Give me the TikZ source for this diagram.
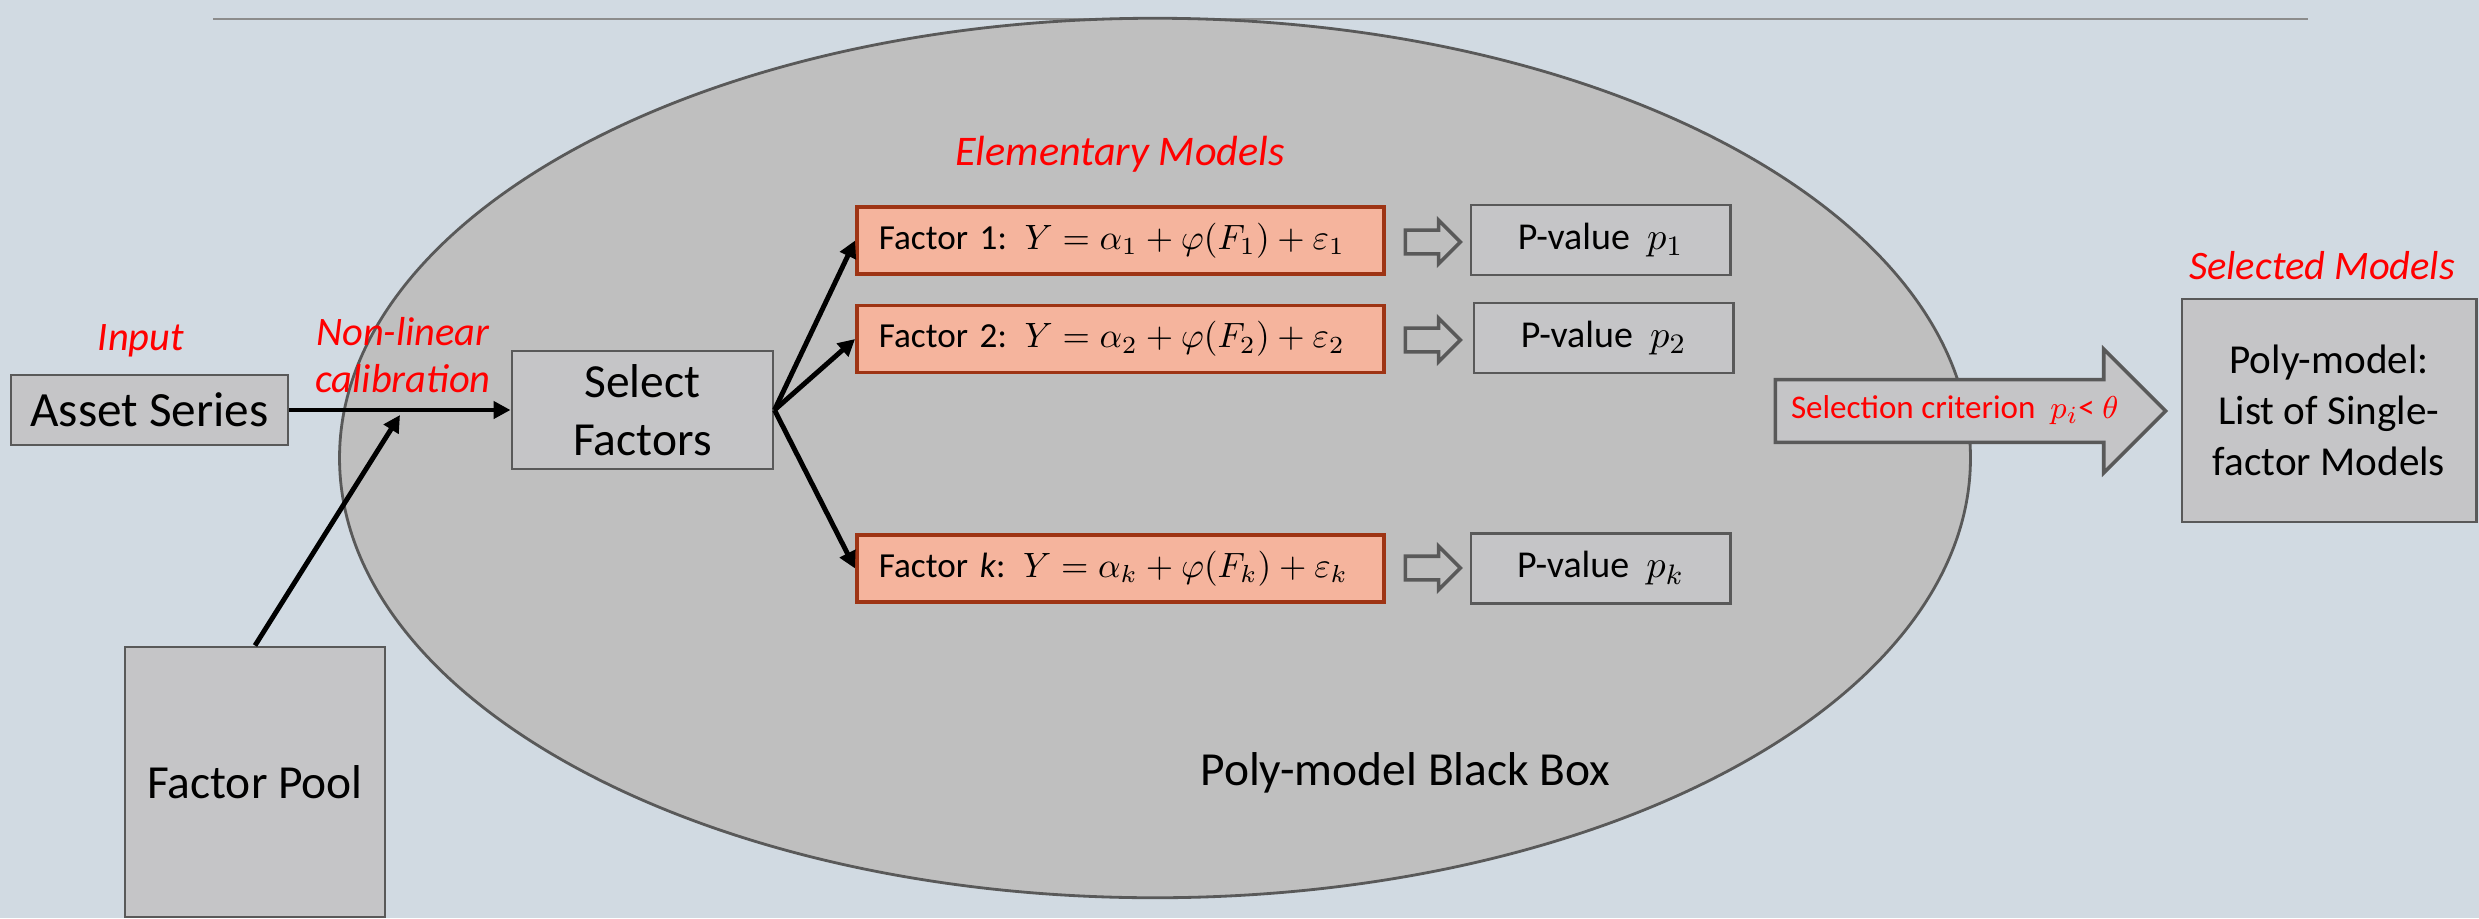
\documentclass[tikz,border=0pt]{standalone}
\usepackage{fontspec}
\setmainfont{Carlito}
\usetikzlibrary{arrows.meta, shapes.geometric, shapes.arrows}

\definecolor{bgblue}{RGB}{209,218,226}
\definecolor{ellgray}{RGB}{191,191,191}
\definecolor{boxgray}{RGB}{197,197,199}
\definecolor{edgegray}{RGB}{89,89,89}
\definecolor{rulegray}{RGB}{140,140,140}
\definecolor{salmon}{RGB}{245,180,157}
\definecolor{rust}{RGB}{158,52,20}

\tikzset{
    grey box/.style={
        draw=edgegray,
        fill=boxgray,
        line width=0.8pt,
        inner sep=0pt,
        align=center
    },
    factor box/.style={
        draw=rust,
        fill=salmon,
        line width=1pt,
        inner xsep=0.22cm,
        inner ysep=0pt,
        minimum height=0.67cm,
        text width=4.83cm,
        align=left,
        font=\fontsize{10}{12}\selectfont
    },
    pvalue box/.style={
        grey box,
        minimum width=2.59cm,
        minimum height=0.70cm,
        font=\fontsize{10.8}{13}\selectfont
    },
    hollow/.style={
        single arrow,
        draw=edgegray,
        line width=1pt,
        minimum height=0.55cm,
        single arrow head extend=0.1cm,
        inner sep=0.1cm
    },
    red label/.style={
        text=red,
        font=\itshape\fontsize{11.5}{13.5}\selectfont,
        align=center
    },
    flow/.style={
        line width=1.4pt,
        -{Triangle[length=4.8pt, width=4.8pt]}
    }
}

\begin{document}
\begin{tikzpicture}[x=0.01cm, y=-0.01cm]
            % Background
            \fill [bgblue] (0,0) rectangle (2479,918);
            \useasboundingbox (0,0) rectangle (2479,918);
            \draw [rulegray, line width=0.6pt] (213,19) -- (2308,19);

            % Black box
            \node (blackbox) [
                ellipse,
                draw=edgegray,
                fill=ellgray,
                line width=0.8pt,
                minimum width=16.3cm,
                minimum height=8.79cm,
                inner sep=0pt
            ] at (1155,458) {};
            \node (bblabel) [
                anchor=base west,
                font=\fontsize{13.5}{16}\selectfont
            ] at (1188,785) {Poly-model Black Box};

            % Inputs
            \node (asset) [
                grey box,
                minimum width=2.77cm,
                minimum height=0.70cm,
                font=\fontsize{14}{16}\selectfont
            ] at (149.5,410) {Asset Series};
            \node (pool) [
                grey box,
                minimum width=2.60cm,
                minimum height=2.70cm,
                font=\fontsize{13.5}{15}\selectfont
            ] at (255,782) {Factor Pool};
            \node (select) [
                grey box,
                minimum width=2.61cm,
                minimum height=1.18cm,
                font=\fontsize{13.5}{16.5}\selectfont
            ] at (642.5,410) {Select\\Factors};
            \coordinate (join) at (400,415);

            % Elementary models
            \node (f1) [factor box] at (1120.5,240.5)
                {Factor 1: $Y = \alpha_1 + \varphi(F_1) + \varepsilon_1$};
            \node (f2) [factor box] at (1120.5,339)
                {Factor 2: $Y = \alpha_2 + \varphi(F_2) + \varepsilon_2$};
            \node (fk) [factor box] at (1120.5,568.5)
                {Factor \textit{k}: $Y = \alpha_k + \varphi(F_k) + \varepsilon_k$};

            \node (h1) [hollow] at (1427,242) {};
            \node (h2) [hollow] at (1427,340) {};
            \node (hk) [hollow] at (1427,568) {};

            \node (p1) [pvalue box] at (1600.5,240) {P-value\ \ $p_1$};
            \node (p2) [pvalue box] at (1603.5,338) {P-value\ \ $p_2$};
            \node (pk) [pvalue box] at (1600.5,568.5) {P-value\ \ $p_k$};

            % Selection
            \node (criterion) [
                single arrow,
                draw=edgegray,
                fill=boxgray,
                line width=1pt,
                minimum height=3.9cm,
                single arrow head extend=0.305cm,
                text height=0.22cm,
                text depth=0.08cm,
                inner ysep=0.145cm,
                inner xsep=0pt,
                text=red,
                font=\fontsize{9.4}{11}\selectfont,
                anchor=tip
            ] at (2168,411) {Selection criterion\ \ $p_i$< $\theta$};
            \node (poly) [
                grey box,
                minimum width=2.94cm,
                minimum height=2.23cm,
                font=\fontsize{11.7}{14.5}\selectfont
            ] at (2329,410.5) {Poly-model:\\List of Single-\\factor Models};

            % Labels
            \node (inlabel) [red label, anchor=base] at (141,350) {Input};
            \node (calib) [red label] at (403,355) {Non-linear\\calibration};
            \node (elemlabel) [red label, font=\itshape\fontsize{12}{14}\selectfont, anchor=base] at (1120,165) {Elementary Models};
            \node (sellabel) [red label, anchor=base] at (2322,279) {Selected Models};

            % Connectors
            \draw [flow] (asset) -- (select);
            \draw [flow] (pool.north) -- (join);
            \draw [flow] (select.east) -- (f1.west);
            \draw [flow] (select.east) -- (f2.west);
            \draw [flow] (select.east) -- (fk.west);
\end{tikzpicture}
\end{document}
